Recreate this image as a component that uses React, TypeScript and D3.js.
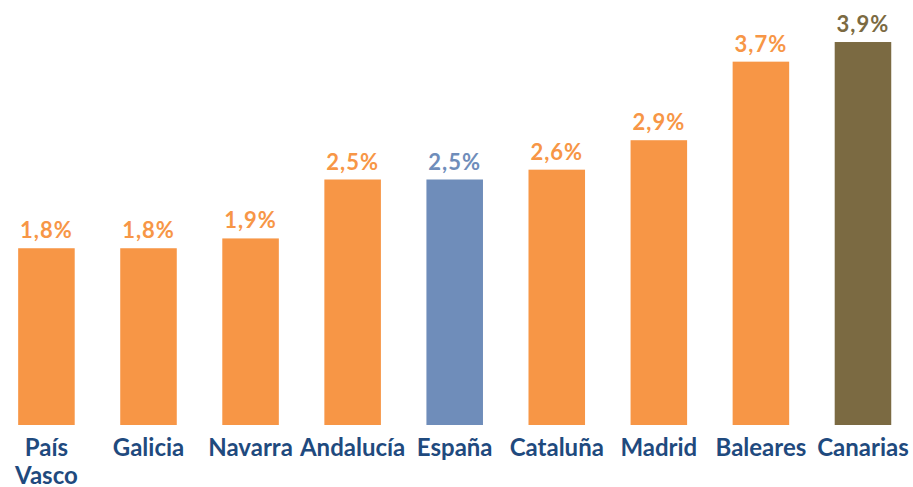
import React, { useEffect, useRef } from 'react'
import * as d3 from 'd3'

const regions = ['País Vasco', 'Galicia', 'Navarra', 'Andalucía', 'España', 'Cataluña', 'Madrid', 'Baleares', 'Canarias']
const values = [1.8, 1.8, 1.9, 2.5, 2.5, 2.6, 2.9, 3.7, 3.9]
const barColors = ['#F79646', '#F79646', '#F79646', '#F79646', '#6F8DBA', '#F79646', '#F79646', '#F79646', '#7B6A42']

const W = 913, H = 487

const App = () => {
  const ref = useRef<SVGSVGElement>(null)

  useEffect(() => {
    document.body.style.margin = '0'
    const svg = d3.select(ref.current)
    svg.selectAll('*').remove()

    const x = d3.scaleBand<string>()
      .domain(regions)
      .range([-4.6, 914])
      .paddingInner(0.446)
      .paddingOuter(0.223)
    const y = d3.scaleLinear().domain([0, 4]).range([425, 32.2])

    const font = 'Lato, "DejaVu Sans", sans-serif'

    svg.selectAll('.bar')
      .data(values)
      .enter().append('rect')
      .attr('class', 'bar')
      .attr('x', (d, i) => x(regions[i])!)
      .attr('width', x.bandwidth())
      .attr('y', d => y(d))
      .attr('height', d => y(0) - y(d))
      .attr('fill', (d, i) => barColors[i])

    svg.selectAll('.value')
      .data(values)
      .enter().append('text')
      .attr('class', 'value')
      .attr('x', (d, i) => x(regions[i])! + x.bandwidth() / 2)
      .attr('y', d => y(d) - 10)
      .attr('text-anchor', 'middle')
      .attr('font-family', font)
      .attr('font-weight', 'bold')
      .attr('font-size', 22)
      .attr('letter-spacing', 1)
      .attr('fill', (d, i) => barColors[i])
      .text(d => d.toFixed(1).replace('.', ',') + '%')

    // category labels, "País Vasco" wraps on two lines
    regions.forEach(d => {
      const words = d === 'País Vasco' ? d.split(' ') : [d]
      words.forEach((w, i) => {
        svg.append('text')
          .attr('class', 'cat')
          .attr('x', x(d)! + x.bandwidth() / 2)
          .attr('y', 456 + i * 28)
          .attr('text-anchor', 'middle')
          .attr('font-family', font)
          .attr('font-weight', 'bold')
          .attr('font-size', 24)
          .attr('fill', '#1F4A7E')
          .text(w)
      })
    })
  }, [])

  return <svg ref={ref} width={W} height={H} style={{ display: 'block' }} />
}

export default App
